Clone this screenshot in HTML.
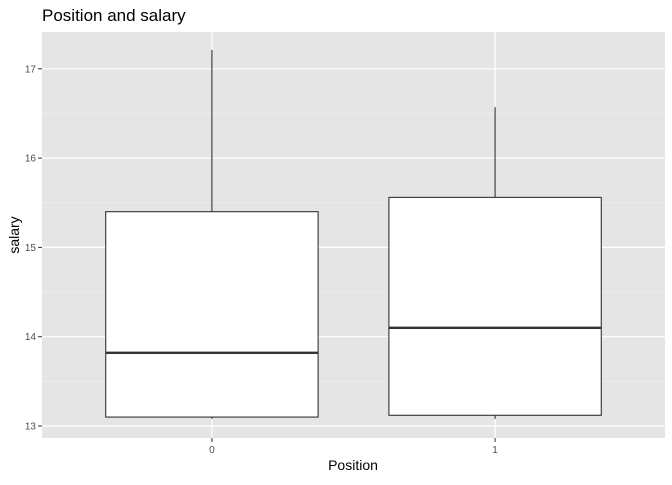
<!DOCTYPE html>
<html><head><meta charset="utf-8"><style>
body{margin:0;background:#fff;font-family:"Liberation Sans",sans-serif}
</style></head><body>
<svg id="chart" width="672" height="480" xmlns="http://www.w3.org/2000/svg">
<text x="42" y="21" font-size="17" fill="#000">Position and salary</text>
<rect x="42" y="32" width="623" height="406" fill="#e5e5e5"/>
<g id="grid"></g><g id="boxes"></g><g id="axes"></g>
<text x="353" y="470" font-size="14" text-anchor="middle">Position</text>
<text transform="translate(19,235) rotate(-90)" font-size="14" text-anchor="middle">salary</text>
</svg>
<script>
const categories=["0","1"];
const lowWhisker=[13.08,13.08];
const q1=[13.10,13.12];
const median=[13.82,14.10];
const q3=[15.40,15.56];
const highWhisker=[17.21,16.57];
const yTicks=[13,14,15,16,17];
const NS="http://www.w3.org/2000/svg";
const L=42,R=665,T=32,B=438;
const y=v=>426-(v-13)*89.3;
const unit=(R-L)/2.2;
const x=i=>L+(i+0.6)*unit;
function mk(tag,attrs,parent){const e=document.createElementNS(NS,tag);for(const k in attrs)e.setAttribute(k,attrs[k]);parent.appendChild(e);return e;}
const grid=document.getElementById('grid'),boxes=document.getElementById('boxes'),axes=document.getElementById('axes');
for(let i=0;i<yTicks.length;i++){
 const v=yTicks[i];
 if(i<yTicks.length-1){const m=mk('line',{x1:L,x2:R,y1:y(v+0.5),y2:y(v+0.5),stroke:'#f2f2f2','stroke-width':0.6},grid);
 
 }
 const g=mk('line',{x1:L,x2:R,y1:y(v),y2:y(v),stroke:'#fff','stroke-width':1.2},grid);
 
 
 mk('line',{x1:L-4,x2:L,y1:y(v),y2:y(v),stroke:'#333'},axes);
 const t=mk('text',{x:L-6,y:y(v)+3.5,'font-size':10,'text-anchor':'end',fill:'#4d4d4d'},axes);
 t.textContent=v;
 
 
}
categories.forEach((c,i)=>{
 const cx=x(i);
 const g=mk('line',{x1:cx,x2:cx,y1:T,y2:B,stroke:'#fff','stroke-width':1.2},grid);
 
 
 mk('line',{x1:cx,x2:cx,y1:B,y2:B+4,stroke:'#333'},axes);
 const t=mk('text',{x:cx,y:B+15,'font-size':10,'text-anchor':'middle',fill:'#4d4d4d'},axes);
 t.textContent=c;
 
 
 const hw=unit*0.375;
 const w1=mk('line',{x1:cx,x2:cx,y1:y(highWhisker[i]),y2:y(q3[i]),stroke:'#333','stroke-width':1.1},boxes);
 
 
 const w2=mk('line',{x1:cx,x2:cx,y1:y(q1[i]),y2:y(lowWhisker[i]),stroke:'#333','stroke-width':1.1},boxes);
 
 
 const b=mk('rect',{x:cx-hw,y:y(q3[i]),width:2*hw,height:y(q1[i])-y(q3[i]),fill:'#fff',stroke:'#333','stroke-width':1.1},boxes);
 
 
 const m=mk('line',{x1:cx-hw,x2:cx+hw,y1:y(median[i]),y2:y(median[i]),stroke:'#333','stroke-width':2.4},boxes);
 
 
});
</script>
</body></html>
